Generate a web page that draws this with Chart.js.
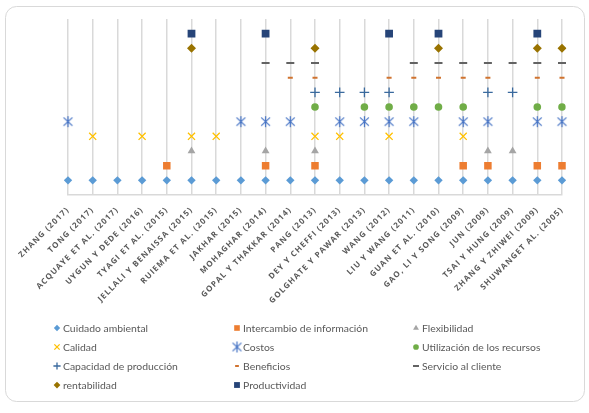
<!DOCTYPE html>
<html>
<head>
<meta charset="utf-8">
<script src="https://cdn.jsdelivr.net/npm/chart.js@4.4.1/dist/chart.umd.min.js"></script>
<style>
  html, body { margin: 0; padding: 0; background: #fff; }
  canvas { display: block; }
</style>
</head>
<body>
<canvas id="grafico" width="589" height="413"></canvas>
<script>
// estudios (eje x)
const estudios = [
  'ZHANG (2017)', 'TONG (2017)', 'ACQUAYE ET AL. (2017)', 'UYGUN Y DEDE (2016)',
  'TYAGI ET AL. (2015)', 'JELLALI Y BENAISSA (2015)', 'RUIEMA ET AL. (2015)', 'JAKHAR (2015)',
  'MOHAGHAR (2014)', 'GOPAL Y THAKKAR (2014)', 'PANG (2013)', 'DEY Y CHEFFI (2013)',
  'GOLGHATE Y PAWAR (2013)', 'WANG (2012)', 'LIU Y WANG (2011)', 'GUAN ET AL. (2010)',
  'GAO, LI Y SONG (2009)', 'JUN (2009)', 'TSAI Y HUNG (2009)', 'ZHANG Y ZHIWEI (2009)',
  'SHUWANGET AL. (2005)'
];

// cada criterio tiene su nivel; null = el estudio no lo considera
const _ = null;
const cuidadoAmbiental = [1,1,1,1,1,1,1,1,1,1,1,1,1,1,1,1,1,1,1,1,1];
const intercambioInfo  = [_,_,_,_,2,_,_,_,2,_,2,_,_,_,_,_,2,2,_,2,2];
const flexibilidad     = [_,_,_,_,_,3,_,_,3,_,3,_,_,_,_,_,_,3,3,_,_];
const calidad          = [_,4,_,4,_,4,4,_,_,_,4,4,_,4,_,_,4,_,_,_,_];
const costos           = [5,_,_,_,_,_,_,5,5,5,_,5,5,5,5,_,5,5,_,5,5];
const utilizacion      = [_,_,_,_,_,_,_,_,_,_,6,_,6,6,6,6,6,_,_,6,6];
const capacidad        = [_,_,_,_,_,_,_,_,_,_,7,7,7,7,_,_,_,7,7,_,_];
const beneficios       = [_,_,_,_,_,_,_,_,_,8,8,_,_,8,8,8,8,8,_,8,8];
const servicio         = [_,_,_,_,_,_,_,_,9,9,9,_,_,_,9,9,9,9,9,9,9];
const rentabilidad     = [_,_,_,_,_,10,_,_,_,_,10,_,_,_,_,10,_,_,_,10,10];
const productividad    = [_,_,_,_,_,11,_,_,11,_,_,_,_,11,_,11,_,_,_,11,_];

// marcador "estrella" de excel (X con linea vertical)
function estrella(color, r) {
  const c = document.createElement('canvas');
  const s = Math.ceil(r * 2 + 2);
  c.width = c.height = s;
  const g = c.getContext('2d');
  const m = s / 2;
  g.strokeStyle = color;
  g.lineWidth = 1.2;
  g.beginPath();
  g.moveTo(m - r * 0.8, m - r * 0.75); g.lineTo(m + r * 0.8, m + r * 0.75);
  g.moveTo(m + r * 0.8, m - r * 0.75); g.lineTo(m - r * 0.8, m + r * 0.75);
  g.moveTo(m, m - r); g.lineTo(m, m + r);
  g.stroke();
  return c;
}

function serie(label, data, estilo, color, radio, borde, relleno) {
  return {
    label: label,
    data: data,
    showLine: false,
    pointStyle: estilo,
    pointRadius: radio,
    pointHoverRadius: radio,
    pointBorderWidth: borde,
    pointBorderColor: color,
    pointBackgroundColor: relleno ? color : 'transparent',
    borderColor: color,
    backgroundColor: color
  };
}

const datasets = [
  serie('Cuidado ambiental', cuidadoAmbiental, 'rectRot', '#5B9BD5', 4.2, 0, true),
  serie('Intercambio de información', intercambioInfo, 'rect', '#ED7D31', 5.3, 0, true),
  serie('Flexibilidad', flexibilidad, 'triangle', '#A5A5A5', 4.5, 0, true),
  serie('Calidad', calidad, 'crossRot', '#FFC000', 5, 1.3, false),
  serie('Costos', costos, estrella('#4472C4', 5.5), '#4472C4', 5.5, 1.2, false),
  serie('Utilización de los recursos', utilizacion, 'circle', '#70AD47', 3.8, 0, true),
  serie('Capacidad de producción', capacidad, 'cross', '#3A6A9E', 4.8, 1.3, false),
  serie('Beneficios', beneficios, 'line', '#D0732F', 2.5, 2, false),
  serie('Servicio al cliente', servicio, 'line', '#636363', 4, 2, false),
  serie('rentabilidad', rentabilidad, 'rectRot', '#997300', 4.5, 0, true),
  serie('Productividad', productividad, 'rect', '#264478', 5.5, 0, true)
];

const colLeyenda = [57, 237, 416];
const filLeyenda = [328, 347, 366, 385];

const marco = {
  id: 'marco',
  beforeDraw(chart) {
    const ctx = chart.ctx;
    ctx.save();
    ctx.fillStyle = '#fff';
    ctx.fillRect(0, 0, chart.width, chart.height);
    ctx.strokeStyle = '#d9d9d9';
    ctx.lineWidth = 1;
    ctx.beginPath();
    ctx.roundRect(5.5, 6.5, 579, 395, 11);
    ctx.stroke();
    ctx.restore();
    // etiquetas del eje espaciadas como en el original
    ctx.letterSpacing = '1.1px';
  },
  afterDraw(chart) {
    const ctx = chart.ctx;
    ctx.letterSpacing = '0px';
    chart.data.datasets.forEach((ds, i) => {
      const x = colLeyenda[i % 3], y = filLeyenda[Math.floor(i / 3)];
      ctx.save();
      ctx.fillStyle = ds.pointBackgroundColor;
      ctx.strokeStyle = ds.pointBorderColor;
      ctx.lineWidth = ds.pointBorderWidth;
      Chart.helpers.drawPoint(ctx, {
        pointStyle: ds.pointStyle, rotation: 0,
        radius: ds.pointRadius * 0.75, borderWidth: ds.pointBorderWidth
      }, x, y);
      ctx.restore();
      ctx.fillStyle = '#595959';
      ctx.font = '10.4px Lato';
      ctx.textBaseline = 'middle';
      ctx.textAlign = 'left';
      ctx.fillText(ds.label, x + 6, y + 0.5);
    });
  }
};

new Chart(document.getElementById('grafico'), {
  type: 'line',
  data: { labels: estudios, datasets: datasets },
  plugins: [marco],
  options: {
    responsive: false,
    animation: false,
    events: [],
    layout: { padding: { left: 68, right: 27, top: 19, bottom: 98 } },
    plugins: { legend: { display: false }, tooltip: { enabled: false } },
    scales: {
      x: {
        offset: false,
        grid: { color: '#d9d9d9', lineWidth: 1.5, drawTicks: false },
        border: { color: '#d9d9d9', width: 1.5 },
        ticks: {
          minRotation: 45, maxRotation: 45, autoSkip: false, padding: 10,
          color: '#595959',
          font: { family: 'Open Sans', size: 8, weight: 'bold' }
        },
        afterFit(s) { s.height = 120; s.paddingLeft = 0; s.paddingRight = 0; }
      },
      y: { display: false, min: 0, max: 12 }
    }
  }
});
</script>
</body>
</html>
